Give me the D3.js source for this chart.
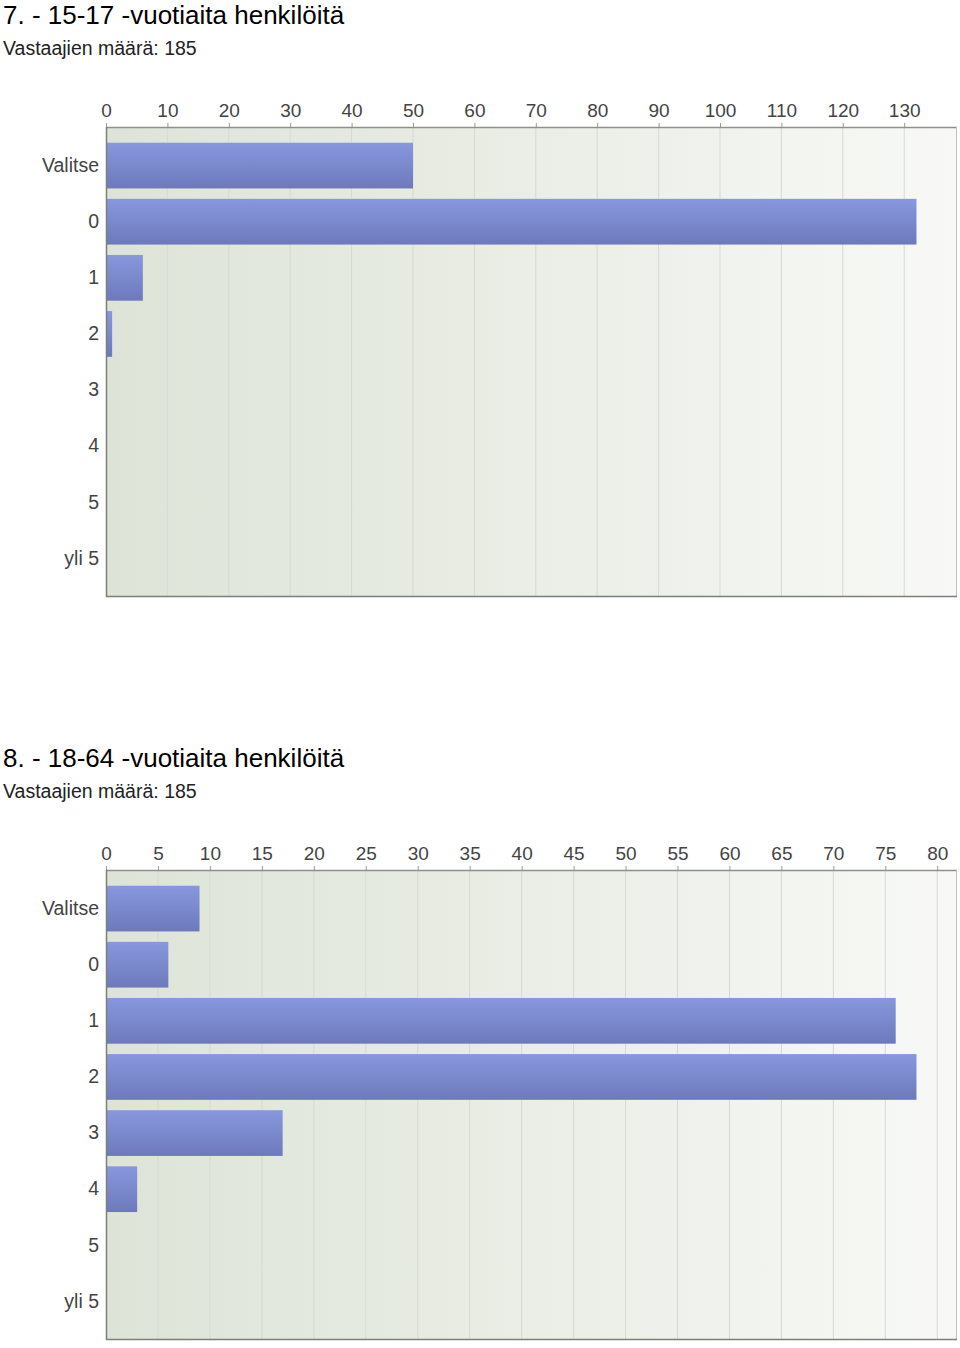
<!DOCTYPE html>
<html><head><meta charset="utf-8">
<script src="https://cdn.jsdelivr.net/npm/d3@7"></script>
<style>
body{margin:0;background:#fff;}
svg{display:block;font-family:"Liberation Sans",Arial,Helvetica,sans-serif;}
</style></head>
<body><svg id="chart" width="960" height="1348"></svg>
<script>
const categories = ["Valitse","0","1","2","3","4","5","yli 5"];
const titles = ["7. - 15-17 -vuotiaita henkilöitä","8. - 18-64 -vuotiaita henkilöitä"];
const subtitles = ["Vastaajien määrä: 185","Vastaajien määrä: 185"];
const values15to17 = [50,132,6,1,0,0,0,0];
const values18to64 = [9,6,76,78,17,3,0,0];
const ticks15to17 = [0,10,20,30,40,50,60,70,80,90,100,110,120,130];
const ticks18to64 = [0,5,10,15,20,25,30,35,40,45,50,55,60,65,70,75,80];
const domainMax = [138.6, 81.9];

const svg = d3.select("#chart");
const defs = svg.append("defs");
const bg = defs.append("linearGradient").attr("id","bgGrad").attr("x1","0").attr("x2","1").attr("y1","0").attr("y2","0");
bg.append("stop").attr("offset","0").attr("stop-color","#dde4d7");
bg.append("stop").attr("offset","0.5").attr("stop-color","#eaeee6");
bg.append("stop").attr("offset","1").attr("stop-color","#f8f9f6");
const bar = defs.append("linearGradient").attr("id","barGrad").attr("x1","0").attr("x2","0").attr("y1","0").attr("y2","1");
bar.append("stop").attr("offset","0").attr("stop-color","#8898de");
bar.append("stop").attr("offset","1").attr("stop-color","#6d79bb");

const charts = [
  {title:titles[0], sub:subtitles[0], values:values15to17, ticks:ticks15to17, max:domainMax[0], y0:0},
  {title:titles[1], sub:subtitles[1], values:values18to64, ticks:ticks18to64, max:domainMax[1], y0:743}
];

const left = 106, right = 957, plotTopRel = 127, plotH = 470;

charts.forEach(c => {
  const g = svg.append("g").attr("transform", `translate(0,${c.y0})`);
  g.append("text").attr("x",3).attr("y",23.5).attr("font-size",26).attr("fill","#000").text(c.title);
  g.append("text").attr("x",3).attr("y",55).attr("font-size",19.5).attr("fill","#222").text(c.sub);

  const x = d3.scaleLinear().domain([0,c.max]).range([left,right]);
  const y = d3.scaleBand().domain(categories).range([plotTopRel, plotTopRel+plotH]).paddingInner(0.185).paddingOuter(0.28);

  g.append("rect").attr("x",left).attr("y",plotTopRel).attr("width",right-left).attr("height",plotH).attr("fill","url(#bgGrad)");

  // gridlines
  g.append("g").selectAll("line").data(c.ticks.filter(t=>t>0)).join("line")
    .attr("x1",d=>x(d)).attr("x2",d=>x(d)).attr("y1",plotTopRel).attr("y2",plotTopRel+plotH)
    .attr("stroke","#d6d9d3").attr("stroke-width",1);

  // bars
  g.append("g").selectAll("rect").data(categories.map((k,i)=>({k,v:c.values[i]})).filter(d=>d.v>0)).join("rect")
    .attr("x",left).attr("y",d=>y(d.k)).attr("width",d=>x(d.v)-left).attr("height",y.bandwidth())
    .attr("fill","url(#barGrad)");

  // top axis
  const ax = d3.axisTop(x).tickValues(c.ticks).tickSize(4).tickPadding(6).tickFormat(d3.format("d"));
  const axg = g.append("g").attr("transform",`translate(0,${plotTopRel})`).call(ax);
  axg.select(".domain").remove();
  axg.selectAll(".tick line").attr("stroke","#999");
  axg.selectAll(".tick text").attr("font-size",19).attr("fill","#444").attr("font-family","Liberation Sans, Arial, sans-serif");

  // left axis labels
  const ay = d3.axisLeft(y).tickSize(0).tickPadding(7);
  const ayg = g.append("g").attr("transform",`translate(${left},0)`).call(ay);
  ayg.select(".domain").remove();
  ayg.selectAll(".tick text").attr("font-size",19.5).attr("fill","#444").attr("font-family","Liberation Sans, Arial, sans-serif");

  // borders
  g.append("line").attr("x1",left).attr("x2",right).attr("y1",plotTopRel+0.5).attr("y2",plotTopRel+0.5).attr("stroke","#8e918b").attr("stroke-width",1.5);
  g.append("line").attr("x1",right-0.5).attr("x2",right-0.5).attr("y1",plotTopRel).attr("y2",plotTopRel+plotH).attr("stroke","#bfc1bd").attr("stroke-width",1);
  g.append("line").attr("x1",left).attr("x2",right).attr("y1",plotTopRel+plotH-0.5).attr("y2",plotTopRel+plotH-0.5).attr("stroke","#7d807a").attr("stroke-width",1.5);
  g.append("line").attr("x1",left+0.5).attr("x2",left+0.5).attr("y1",plotTopRel).attr("y2",plotTopRel+plotH).attr("stroke","#7d807a").attr("stroke-width",1.5);
});
</script></body></html>
